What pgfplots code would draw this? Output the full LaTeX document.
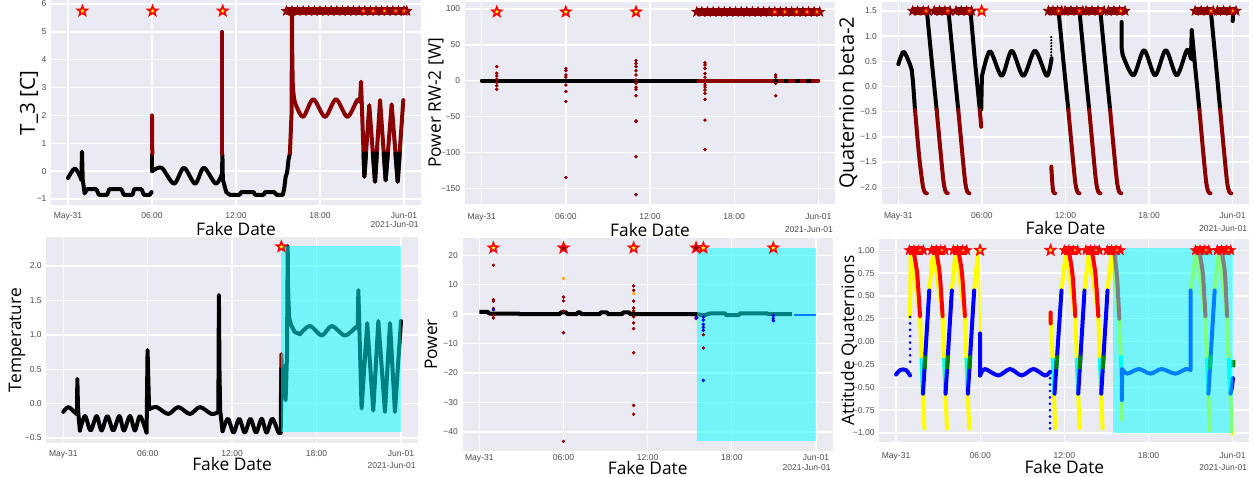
\documentclass[border=0pt]{standalone}
\usepackage{fontspec}
\setmainfont{Liberation Sans}
\newfontfamily\labfont{Open Sans}
\usepackage{pgfplots}
\pgfplotsset{compat=1.18}
\usetikzlibrary{plotmarks}

\definecolor{sbbg}{HTML}{EAEAF2}
\definecolor{tickgray}{HTML}{4D4D4D}
\definecolor{dred}{HTML}{8B0000}
\definecolor{cyn}{HTML}{00FFFF}
\definecolor{yel}{HTML}{FFFF00}
\definecolor{rd}{HTML}{FF0000}
\definecolor{bl}{HTML}{0000FF}
\definecolor{grn}{HTML}{008000}
\definecolor{orng}{HTML}{FFA500}

% filled five-point star
\pgfdeclareplotmark{fstar}{%
  \pgfpathmoveto{\pgfpointpolar{90}{\pgfplotmarksize}}%
  \pgfpathlineto{\pgfpointpolar{126}{0.42\pgfplotmarksize}}%
  \pgfpathlineto{\pgfpointpolar{162}{\pgfplotmarksize}}%
  \pgfpathlineto{\pgfpointpolar{198}{0.42\pgfplotmarksize}}%
  \pgfpathlineto{\pgfpointpolar{234}{\pgfplotmarksize}}%
  \pgfpathlineto{\pgfpointpolar{270}{0.42\pgfplotmarksize}}%
  \pgfpathlineto{\pgfpointpolar{306}{\pgfplotmarksize}}%
  \pgfpathlineto{\pgfpointpolar{342}{0.42\pgfplotmarksize}}%
  \pgfpathlineto{\pgfpointpolar{18}{\pgfplotmarksize}}%
  \pgfpathlineto{\pgfpointpolar{54}{0.42\pgfplotmarksize}}%
  \pgfpathclose
  \pgfusepathqfillstroke
}

\pgfplotsset{
  panel/.style={
    scale only axis, anchor=south west,
    axis background/.style={fill=sbbg},
    axis line style={draw=none},
    major tick length=0pt,
    grid=major, major grid style={white, line width=1pt},
    xmin=-1.2, xmax=25.2,
    xtick={0,6,12,18,24},
    xticklabels={May-31,06:00,12:00,18:00,Jun-01},
    tick label style={font=\fontsize{6.4}{7}\selectfont, text=tickgray},
    unbounded coords=jump,
  },
  dat/.style={line width=3pt, line join=round, line cap=round},
  thin/.style={line width=1.5pt, line join=round},
  sc/.style={only marks, mark=*, mark size=1.1pt},
  band/.style={line width=6.5pt, line cap=butt, mark=fstar, mark size=4pt},
  ystar/.style={only marks, mark=fstar, mark size=3.8pt,
    mark options={fill=yel, draw=rd, line width=1.2pt}},
  ysmall/.style={only marks, mark=fstar, mark size=2pt,
    mark options={fill=yel, draw=rd, line width=0.5pt}},
}
\tikzset{
  labf/.style={font=\labfont\fontsize{13}{15}\selectfont, inner sep=0pt},
  offs/.style={font=\fontsize{6.4}{7}\selectfont, text=tickgray, inner sep=0pt, anchor=east},
}

\begin{document}
\begin{tikzpicture}
\useasboundingbox (0,0) rectangle (940.5pt,-357.75pt);

% ---------------- T_3 ----------------
\begin{axis}[panel, name=p1, at={(38.4pt,-154.05pt)}, width=277.2pt, height=153.75pt,
  ymin=-1.23, ymax=6.13, ytick={-1,0,1,2,3,4,5,6}, yticklabels={−1,0,1,2,3,4,5,6},
  xticklabel style={yshift=-1.5pt}]
\addplot[dat, black, smooth] coordinates {(0,-0.25)(0.5,0.1)(0.95,-0.3)};
\addplot[dat, black] coordinates {(0.95,-0.3)(1.0,0.7)(1.05,-0.3)(1.19,-0.8)(1.36,-0.65)(2.03,-0.65)(2.2,-0.85)(2.79,-0.85)(2.95,-0.65)(3.82,-0.65)(3.98,-0.85)(4.61,-0.85)(4.72,-0.65)(5.25,-0.65)(5.42,-0.85)(5.85,-0.85)(5.97,-0.75)};
\addplot[dat, black] coordinates {(6.02,0.6)(6.02,0.0)};
\addplot[dat, black, smooth] coordinates {(6.02,0)(6.69,0.12)(7.57,-0.45)(8.28,0.12)(9.08,-0.45)(9.7,0.12)(10.55,-0.45)(11.0,-0.1)};
\addplot[dat, black] coordinates {(11.0,-0.1)(11.03,0.6)(11.06,-0.3)(11.3,-0.75)(11.55,-0.85)(12.25,-0.85)(12.38,-0.75)(13.25,-0.75)(13.37,-0.85)(13.97,-0.85)(14.09,-0.75)(14.73,-0.75)(14.9,-0.85)(15.35,-0.85)(15.45,-0.6)(15.55,-0.2)(15.65,-0.05)(15.75,0.4)(15.85,0.64)};
\addplot[dat, dred] coordinates {(6.0,2.0)(6.02,0.62)};
\addplot[dat, dred] coordinates {(11.03,5.0)(11.03,0.62)};
\addplot[dat, dred] coordinates {(15.85,0.64)(15.97,2.1)(16.0,5.8)(16.02,4.0)(16.06,3.0)(16.15,2.6)};
\addplot[dat, dred, smooth] coordinates {(16.15,2.6)(16.33,2.31)(16.81,1.95)(17.52,2.58)(18.36,1.95)(19.14,2.58)(19.95,1.95)(20.66,2.55)(20.86,2.5)};
\addplot[dat, dred] coordinates {(20.86,2.5)(20.93,3.21)(21.17,-0.2)(21.52,2.37)(21.93,-0.38)(22.29,2.55)(22.69,-0.33)(23.12,2.4)(23.55,-0.38)(23.95,2.55)};
\addplot[dat, black] coordinates {(21.11,0.64)(21.17,-0.2)(21.28,0.64)(21.28,nan)(21.78,0.64)(21.93,-0.38)(22.06,0.64)(22.06,nan)(22.56,0.64)(22.69,-0.33)(22.84,0.64)(22.84,nan)(23.39,0.64)(23.55,-0.38)(23.69,0.64)};
\addplot[band, dred, mark options={fill=dred, draw=dred, line width=0.4pt}] coordinates {(15.6,5.75)(16.0,5.75)(16.4,5.75)(16.8,5.75)(17.2,5.75)(17.6,5.75)(18.0,5.75)(18.4,5.75)(18.8,5.75)(19.2,5.75)(19.6,5.75)(20.0,5.75)(20.4,5.75)(20.8,5.75)(21.2,5.75)(21.6,5.75)(22.0,5.75)(22.4,5.75)(22.8,5.75)(23.2,5.75)(23.6,5.75)(24.0,5.75)(24.2,5.75)};
\addplot[ystar] coordinates {(1.03,5.75)(6.04,5.75)(11.05,5.75)};
\addplot[ysmall] coordinates {(21.1,5.75)(21.8,5.75)(22.6,5.75)(23.4,5.75)(24.0,5.75)};
\end{axis}
\node[labf, rotate=90, font=\labfont\fontsize{15.5}{17}\selectfont] at ([xshift=-16.7pt]p1.west) {T\_3 [C]};
\node[labf] at ([yshift=-18pt]p1.south) {Fake Date};
\node[offs] at ([yshift=-14.7pt, xshift=-1.5pt]p1.south east) {2021-Jun-01};

% ---------------- Power RW-2 ----------------
\begin{axis}[panel, name=p2, at={(348.7pt,-152.9pt)}, width=277.65pt, height=151.4pt,
  ymin=-171.8, ymax=109.8, ytick={-150,-100,-50,0,50,100}, yticklabels={−150,−100,−50,0,50,100},
  xticklabel style={yshift=-3.8pt}]
\addplot[dat, black] coordinates {(0,0)(15.45,0)};
\addplot[dat, dred] coordinates {(15.45,0)(24,0)};
\addplot[dat, black, line cap=butt] coordinates {(20.84,0)(21.15,0)(21.15,nan)(21.55,0)(21.86,0)(21.86,nan)(22.34,0)(22.69,0)(22.69,nan)(23.1,0)(23.46,0)};
\addplot[sc, dred] coordinates {
 (1.07,19.6)(1.07,10.3)(1.07,6.6)(1.07,2)(1.07,-2.7)(1.07,-7)(1.07,-12)
 (6.0,17)(6.0,14)(6.0,8)(6.0,5)(6.0,-6)(6.0,-15)(6.0,-29)(6.0,-135)
 (11.0,28)(11.0,24)(11.0,19.6)(11.0,14)(11.0,8)(11.0,1)(11.0,-3.6)(11.0,-9)(11.0,-12)(11.0,-21)(11.0,-56)(11.0,-57)(11.0,-106)(11.0,-159)
 (15.92,25)(15.92,22)(15.92,17)(15.92,10)(15.92,5)(15.92,-2.7)(15.92,-6)(15.92,-9)(15.92,-13)(15.92,-17.6)(15.92,-26)(15.92,-55)(15.92,-96)(15.92,92)
 (20.96,8)(20.96,5)(20.96,-3.6)(20.96,-21)};
\addplot[band, dred, mark options={fill=dred, draw=dred, line width=0.4pt}] coordinates {(15.33,96)(15.7,96)(16.1,96)(16.5,96)(16.9,96)(17.3,96)(17.7,96)(18.1,96)(18.5,96)(18.9,96)(19.3,96)(19.7,96)(20.1,96)(20.5,96)(20.9,96)(21.3,96)(21.7,96)(22.1,96)(22.5,96)(22.9,96)(23.3,96)(23.7,96)(24.1,96)};
\addplot[ystar] coordinates {(1.07,96)(5.99,96)(11.0,96)};
\addplot[ysmall] coordinates {(20.9,96)(21.6,96)(22.45,96)(23.2,96)(23.9,96)};
\end{axis}
\node[labf, rotate=90] at ([xshift=-21.7pt]p2.west) {Power RW-2 [W]};
\node[labf] at ([yshift=-19.5pt]p2.south) {Fake Date};
\node[offs] at ([yshift=-19.5pt, xshift=-1.5pt]p2.south east) {2021-Jun-01};

% ---------------- Quaternion beta-2 ----------------
\begin{axis}[panel, name=p3, at={(661.2pt,-152.9pt)}, width=275.85pt, height=151.5pt,
  ymin=-2.33, ymax=1.68, ytick={-2,-1.5,-1,-0.5,0,0.5,1,1.5},
  yticklabels={−2.0,−1.5,−1.0,−0.5,0.0,0.5,1.0,1.5},
  xticklabel style={yshift=-2.6pt}]
\addplot[dat, black, smooth] coordinates {(0,0.44)(0.36,0.69)(0.75,0.5)(0.96,0.33)};
\addplot[dat, black] coordinates {(0.96,0.33)(1.05,0.1)(1.2,-0.47)
 (1.2,nan)(2.05,1.5)(2.4,0.5)(2.75,-0.46)
 (2.75,nan)(3.6,1.5)(3.95,0.5)(4.3,-0.46)
 (4.3,nan)(5.18,1.5)(5.5,0.5)(5.85,-0.47)(5.95,-0.47)(6.0,0.2)
 (6.0,nan)(11.5,1.5)(11.85,0.5)(12.2,-0.46)
 (12.2,nan)(13.0,1.5)(13.35,0.5)(13.7,-0.46)
 (13.7,nan)(14.5,1.5)(14.85,0.5)(15.2,-0.46)
 (15.2,nan)(16.03,1.28)(16.03,0.76)(16.1,0.63)
 (16.1,nan)(20.94,0.62)(21.0,0.55)(21.06,1.12)(21.1,0.54)
 (21.1,nan)(21.06,1.12)(21.3,0.4)(21.61,-0.46)
 (21.61,nan)(22.43,1.5)(22.78,0.5)(23.1,-0.46)
 (23.1,nan)(24.0,1.3)(24.02,1.4)};
\addplot[dat, black, smooth] coordinates {(6.0,0.2)(6.58,0.7)(7.42,0.21)(8.14,0.71)(8.97,0.21)(9.81,0.71)(10.65,0.21)(11.0,0.56)};
\addplot[dat, black, smooth] coordinates {(16.1,0.63)(16.87,0.22)(17.64,0.72)(18.43,0.22)(19.2,0.72)(19.98,0.22)(20.7,0.72)(20.94,0.62)};
\addplot[only marks, mark=*, mark size=0.6pt, black] coordinates {(10.98,0.62)(10.98,0.68)(10.98,0.74)(10.98,0.8)(10.98,0.86)(10.98,0.92)(10.98,0.98)};
\addplot[dat, dred, smooth] coordinates {(1.2,-0.47)(1.5,-1.4)(1.75,-1.95)(1.9,-2.1)(2.05,-2.12)};
\addplot[dat, dred, smooth] coordinates {(2.75,-0.46)(3.05,-1.35)(3.25,-1.9)(3.4,-2.09)(3.55,-2.12)};
\addplot[dat, dred, smooth] coordinates {(4.3,-0.46)(4.6,-1.35)(4.8,-1.9)(4.95,-2.09)(5.1,-2.12)};
\addplot[dat, dred] coordinates {(5.85,-0.47)(5.95,-0.8)};
\addplot[dat, dred, smooth] coordinates {(10.98,-1.59)(11.05,-1.9)(11.12,-2.09)(11.25,-2.12)};
\addplot[dat, dred, smooth] coordinates {(12.2,-0.46)(12.5,-1.35)(12.7,-1.9)(12.85,-2.09)(13.0,-2.12)};
\addplot[dat, dred, smooth] coordinates {(13.7,-0.46)(14.0,-1.35)(14.2,-1.9)(14.35,-2.09)(14.5,-2.12)};
\addplot[dat, dred, smooth] coordinates {(15.2,-0.46)(15.5,-1.35)(15.7,-1.9)(15.85,-2.09)(16.0,-2.12)};
\addplot[dat, dred, smooth] coordinates {(21.61,-0.46)(21.9,-1.35)(22.1,-1.9)(22.25,-2.09)(22.4,-2.12)};
\addplot[dat, dred, smooth] coordinates {(23.1,-0.46)(23.4,-1.35)(23.6,-1.9)(23.75,-2.09)(23.9,-2.12)};
\addplot[band, dred, mark options={fill=dred, draw=dred, line width=0.4pt}] coordinates {
 (1.03,1.5)(1.4,1.5)(1.78,1.5)(2.15,1.5)(2.15,nan)
 (2.58,1.5)(2.96,1.5)(3.34,1.5)(3.71,1.5)(3.71,nan)
 (4.14,1.5)(4.52,1.5)(4.9,1.5)(5.26,1.5)(5.26,nan)
 (10.77,1.5)(11.1,1.5)(11.43,1.5)(11.73,1.5)(11.73,nan)
 (11.97,1.5)(12.39,1.5)(12.82,1.5)(13.24,1.5)(13.24,nan)
 (13.47,1.5)(13.9,1.5)(14.34,1.5)(14.77,1.5)(14.77,nan)
 (15.08,1.5)(15.48,1.5)(15.88,1.5)(16.27,1.5)(16.27,nan)
 (21.3,1.5)(21.73,1.5)(22.17,1.5)(22.6,1.5)(22.6,nan)
 (22.9,1.5)(23.35,1.5)(23.8,1.5)(24.24,1.5)};
\addplot[ystar] coordinates {(5.98,1.5)};
\addplot[ysmall] coordinates {(1.99,1.5)(3.54,1.5)(5.1,1.5)(11.5,1.5)(13.0,1.5)(14.5,1.5)(15.96,1.5)(22.45,1.5)(24.0,1.5)};
\end{axis}
\node[labf, rotate=90, font=\labfont\fontsize{15}{16}\selectfont] at ([xshift=-25.2pt]p3.west) {Quaternion beta-2};
\node[labf] at ([yshift=-18.3pt]p3.south) {Fake Date};
\node[offs] at ([yshift=-18.3pt, xshift=-1.5pt]p3.south east) {2021-Jun-01};

% ---------------- Temperature ----------------
\begin{axis}[panel, name=p4, at={(34.8pt,-331.9pt)}, width=278.6pt, height=153.8pt,
  ymin=-0.565, ymax=2.415, ytick={-0.5,0,0.5,1,1.5,2}, yticklabels={−0.5,0.0,0.5,1.0,1.5,2.0},
  xticklabel style={yshift=-2.7pt}]
\addplot[dat, black, smooth] coordinates {(0,-0.12)(0.36,-0.05)(0.83,-0.13)(0.97,-0.15)};
\addplot[dat, black] coordinates {(0.97,-0.15)(1.0,0.36)(1.05,-0.1)(1.18,-0.39)};
\addplot[dat, black, smooth] coordinates {(1.18,-0.39)(1.54,-0.18)(1.94,-0.39)(2.37,-0.18)(2.72,-0.39)(3.13,-0.18)(3.55,-0.39)(3.98,-0.18)(4.31,-0.39)(4.74,-0.18)(5.09,-0.39)(5.45,-0.18)(5.92,-0.42)};
\addplot[dat, black] coordinates {(5.92,-0.42)(5.99,0.78)(6.05,0.3)(6.1,-0.08)};
\addplot[dat, black, smooth] coordinates {(6.1,-0.08)(6.63,-0.05)(7.46,-0.15)(8.17,-0.05)(9.0,-0.15)(9.71,-0.05)(10.54,-0.15)(11.02,-0.12)};
\addplot[dat, black] coordinates {(11.02,-0.12)(11.06,1.58)(11.1,0.5)(11.15,-0.1)(11.32,-0.4)};
\addplot[dat, black, smooth] coordinates {(11.32,-0.4)(11.7,-0.22)(12.1,-0.42)(12.5,-0.22)(12.9,-0.42)(13.3,-0.22)(13.7,-0.42)(14.1,-0.22)(14.45,-0.42)(14.85,-0.22)(15.3,-0.42)(15.45,-0.42)};
\addplot[dat, dred] coordinates {(15.46,-0.1)(15.5,0.72)(15.55,0.3)};
\addplot[dat, black] coordinates {(15.45,-0.42)(15.52,0.5)(15.62,0.1)(15.72,0.55)(15.8,0.05)(15.9,0.72)(15.95,2.29)(15.97,1.7)(16.05,1.25)(16.2,1.14)(16.45,1.04)(16.82,1.01)};
\addplot[dat, black, smooth] coordinates {(16.82,1.01)(17.53,1.13)(18.37,0.99)(19.08,1.13)(20.02,0.99)(20.85,1.12)(20.93,1.1)};
\addplot[dat, black] coordinates {(20.93,1.1)(20.97,1.65)(21.2,-0.07)(21.6,1.17)(22.03,-0.1)(22.39,1.2)(22.86,-0.12)(23.22,1.17)(23.57,-0.12)(24.0,1.2)};
\addplot[ystar] coordinates {(15.5,2.28)};
\addplot[draw=none, fill=cyn, fill opacity=0.5] coordinates {(15.45,-0.41)(23.98,-0.41)(23.98,2.29)(15.45,2.29)} -- cycle;
\end{axis}
\node[labf, rotate=90] at ([xshift=-22pt]p4.west) {Temperature};
\node[labf] at ([yshift=-16pt]p4.south) {Fake Date};
\node[offs] at ([yshift=-17.1pt, xshift=-1.5pt]p4.south east) {2021-Jun-01};

% ---------------- Power ----------------
\begin{axis}[panel, name=p5, at={(346.9pt,-338.3pt)}, width=277.7pt, height=159.9pt,
  ymin=-46.5, ymax=25.9, ytick={-40,-30,-20,-10,0,10,20}, yticklabels={−40,−30,−20,−10,0,10,20},
  xticklabel style={yshift=1.3pt}]
\addplot[dat, black, line cap=butt] coordinates {(0,0.8)(0.6,0.8)(0.7,0.2)(2.8,0.2)(2.9,0)(5.75,0)(5.8,0.6)(6.2,0.6)(6.25,0)(6.97,0)(7.0,0.6)(7.2,0.6)(7.25,0)(8.6,0)(8.65,0.6)(9.1,0.6)(9.15,0)(10.2,0)(10.25,0.6)(10.7,0.6)(10.75,0)(15.5,0)(16.0,-0.4)(16.5,0.3)(17.5,0.3)(17.6,-0.3)(18.5,-0.3)(18.6,0.3)(20.5,0.3)(20.6,0)(22.3,0)};
\addplot[line width=2pt, bl] coordinates {(22.4,-0.3)(24.0,-0.3)};
\addplot[sc, dred] coordinates {
 (1.0,16.6)(1.0,4.9)(1.0,4.4)(1.0,1.9)(1.0,-0.4)(1.0,-1.3)
 (6.0,5.8)(6.0,4.5)(6.0,1)(6.0,-6.3)(6.0,-43.2)
 (11.0,9.6)(11.0,8.1)(11.0,4.4)(11.0,2.1)(11.0,1.1)(11.0,-0.9)(11.0,-3)(11.0,-4.9)(11.0,-13.1)(11.0,-31)(11.0,-34)
 (15.45,-1.5)(15.45,-1)(15.97,-7)(15.97,-11.5)};
\addplot[sc, orng] coordinates {(6.0,12.1)(11.0,7)};
\addplot[sc, bl] coordinates {(1.0,1.5)(15.5,-1.2)(15.97,-1)(15.97,-2)(15.97,-3.5)(15.97,-4.5)(15.97,-5.5)(15.97,-22.5)(20.96,-1.5)(20.96,-2.2)(20.96,-0.5)};
\addplot[ystar] coordinates {(1.0,22.5)(6.0,22.5)(11.0,22.5)(15.45,22.5)(15.97,22.5)(20.96,22.5)};
\addplot[only marks, mark=fstar, mark size=1.8pt, mark options={fill=dred, draw=dred}] coordinates {(6.0,22.5)(15.45,22.5)};
\addplot[draw=none, fill=cyn, fill opacity=0.5] coordinates {(15.5,-43.2)(24,-43.2)(24,22.5)(15.5,22.5)} -- cycle;
\end{axis}
\node[labf, rotate=90] at ([xshift=-23.6pt]p5.west) {Power};
\node[labf] at ([yshift=-12.5pt]p5.south) {Fake Date};
\node[offs] at ([yshift=-12pt, xshift=-1.5pt]p5.south east) {2021-Jun-01};

% ---------------- Attitude Quaternions ----------------
\begin{axis}[panel, name=p6, at={(659.4pt,-331.6pt)}, width=277.7pt, height=152.1pt,
  ymin=-1.1, ymax=1.12, ytick={-1,-0.75,-0.5,-0.25,0,0.25,0.5,0.75,1},
  yticklabels={−1.00,−0.75,−0.50,−0.25,0.00,0.25,0.50,0.75,1.00},
  xticklabel style={yshift=-4.2pt}]
\addplot[dat, yel] coordinates {
 (1.0,0.27)(1.05,1.0)(1.71,0.28)(1.86,-0.36)(2.02,-0.95)(2.02,nan)
 (2.37,0.56)(2.66,1.0)(3.32,0.28)(3.47,-0.36)(3.63,-0.95)(3.63,nan)
 (3.98,0.56)(4.25,1.0)(4.91,0.28)(5.06,-0.36)(5.22,-0.95)(5.22,nan)
 (5.57,0.56)(5.86,1.0)(5.86,nan)
 (11.02,0.27)(11.23,-0.36)(11.34,-0.95)(11.34,nan)
 (11.8,0.56)(12.12,1.0)(12.78,0.28)(12.93,-0.36)(13.09,-0.95)(13.09,nan)
 (13.44,0.56)(13.76,1.0)(14.42,0.28)(14.57,-0.36)(14.73,-0.95)(14.73,nan)
 (15.08,0.56)(15.39,1.0)(15.92,0.25)(16.06,-0.3)(16.1,-0.85)(16.1,nan)
 (21.02,0.56)(21.4,1.0)(22.06,0.28)(22.21,-0.36)(22.37,-0.97)(22.37,nan)
 (22.72,0.56)(23.02,1.0)(23.6,0.28)(23.76,-0.36)(23.98,-1.0)};
\addplot[thin, yel] coordinates {(5.9,1.0)(5.99,0.09)};
\addplot[dat, cyn, line cap=butt] coordinates {
 (1.82,-0.18)(1.86,-0.36)(1.92,-0.57)(1.92,nan)
 (3.43,-0.18)(3.47,-0.36)(3.53,-0.57)(3.53,nan)
 (5.02,-0.18)(5.06,-0.36)(5.12,-0.57)(5.12,nan)
 (11.17,-0.18)(11.23,-0.36)(11.27,-0.57)(11.27,nan)
 (12.89,-0.18)(12.93,-0.36)(12.99,-0.57)(12.99,nan)
 (14.53,-0.18)(14.57,-0.36)(14.63,-0.57)(14.63,nan)
 (16.03,-0.15)(16.06,-0.3)(16.07,-0.4)(16.07,nan)
 (22.17,-0.18)(22.21,-0.36)(22.27,-0.57)(22.27,nan)
 (23.72,-0.18)(23.76,-0.36)(23.83,-0.57)};
\addplot[dat, rd, smooth] coordinates {
 (1.23,1.0)(1.5,0.75)(1.71,0.28)(1.71,nan)
 (2.84,1)(3.11,0.75)(3.32,0.28)(3.32,nan)
 (4.43,1)(4.7,0.75)(4.91,0.28)(4.91,nan)
 (11.02,0.32)(11.03,0.2)(11.03,nan)
 (12.3,1)(12.57,0.75)(12.78,0.28)(12.78,nan)
 (13.94,1)(14.21,0.75)(14.42,0.28)(14.42,nan)
 (15.55,1)(15.76,0.7)(15.92,0.25)(15.92,nan)
 (21.6,1)(21.87,0.75)(22.06,0.28)(22.06,nan)
 (23.2,1)(23.45,0.75)(23.6,0.28)};
\addplot[dat, bl] coordinates {
 (1.92,-0.57)(2.37,0.56)(2.37,nan)
 (3.53,-0.57)(3.98,0.56)(3.98,nan)
 (5.12,-0.57)(5.57,0.56)(5.57,nan)
 (5.99,0.09)(5.99,-0.37)(5.99,nan)
 (11.3,-0.57)(11.8,0.56)(11.8,nan)
 (12.99,-0.57)(13.44,0.56)(13.44,nan)
 (14.63,-0.57)(15.08,0.56)(15.08,nan)
 (16.1,-0.64)(16.12,-0.3)(16.12,nan)
 (21.0,-0.31)(21.0,0.56)(21.0,nan)
 (22.27,-0.57)(22.72,0.56)(22.72,nan)
 (23.85,-0.57)(23.95,-0.5)(24.02,-0.4)};
\addplot[dat, bl, smooth] coordinates {(0,-0.36)(0.3,-0.31)(0.7,-0.31)(1.0,-0.37)};
\addplot[dat, bl, smooth] coordinates {(5.99,-0.37)(6.34,-0.3)(7.29,-0.37)(8.13,-0.3)(8.96,-0.37)(9.79,-0.3)(10.62,-0.37)(10.98,-0.33)};
\addplot[dat, bl, smooth] coordinates {(16.12,-0.3)(16.48,-0.35)(17.31,-0.3)(18.14,-0.35)(18.93,-0.3)(19.9,-0.35)(20.66,-0.3)(20.98,-0.31)};
\addplot[only marks, mark=*, mark size=0.8pt, bl] coordinates {
 (1.0,0.27)(1.0,0.2)(1.0,0.13)(1.0,0.06)(1.0,-0.01)(1.0,-0.08)(1.0,-0.15)(1.0,-0.22)
 (10.98,-0.4)(10.98,-0.47)(10.98,-0.54)(10.98,-0.61)(10.98,-0.68)(10.98,-0.75)(10.98,-0.82)(10.98,-0.89)(10.98,-0.95)};
\addplot[dat, grn, line cap=butt] coordinates {
 (2.03,-0.3)(2.09,-0.15)(2.09,nan)
 (3.64,-0.3)(3.7,-0.15)(3.7,nan)
 (5.23,-0.3)(5.29,-0.15)(5.29,nan)
 (11.42,-0.3)(11.49,-0.15)(11.49,nan)
 (13.1,-0.3)(13.16,-0.15)(13.16,nan)
 (14.74,-0.3)(14.8,-0.15)(14.8,nan)
 (22.38,-0.3)(22.44,-0.15)(22.44,nan)
 (24.04,-0.28)(24.06,-0.2)};
\addplot[band, rd, mark options={fill=rd, draw=rd, line width=0.4pt}] coordinates {
 (0.95,1)(1.28,1)(1.62,1)(1.95,1)(1.95,nan)
 (2.54,1)(2.86,1)(3.17,1)(3.49,1)(3.49,nan)
 (4.08,1)(4.4,1)(4.72,1)(5.04,1)(5.04,nan)
 (12.0,1)(12.32,1)(12.63,1)(12.95,1)(12.95,nan)
 (13.54,1)(13.86,1)(14.17,1)(14.49,1)(14.49,nan)
 (15.06,1)(15.37,1)(15.69,1)(16.0,1)(16.0,nan)
 (21.35,1)(21.67,1)(21.98,1)(22.3,1)(22.3,nan)
 (22.9,1)(23.22,1)(23.54,1)(23.86,1)};
\addplot[ystar] coordinates {(5.99,1)(11.02,1)};
\addplot[ysmall] coordinates {(1.71,1)(3.26,1)(4.8,1)(12.75,1)(14.25,1)(15.77,1)(22.1,1)(23.7,1)};
\addplot[draw=none, fill=cyn, fill opacity=0.5] coordinates {(15.49,-1.0)(24.0,-1.0)(24.0,1.03)(15.49,1.03)} -- cycle;
\end{axis}
\node[labf, rotate=90] at ([xshift=-22.6pt]p6.west) {Attitude Quaternions};
\node[labf] at ([yshift=-18.7pt]p6.south) {Fake Date};
\node[offs] at ([yshift=-18.75pt, xshift=-1.5pt]p6.south east) {2021-Jun-01};
\end{tikzpicture}
\end{document}
